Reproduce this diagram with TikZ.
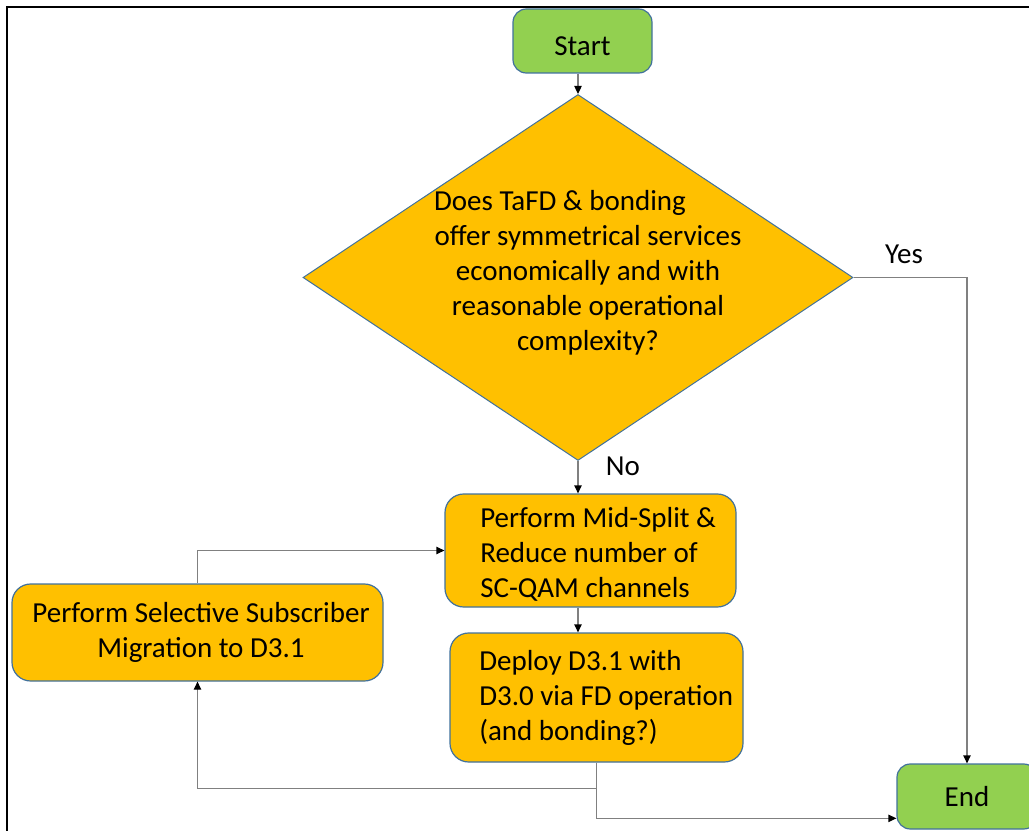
\documentclass[tikz,border=0pt]{standalone}
\usepackage{fontspec}
\setmainfont{Carlito}
\usetikzlibrary{arrows.meta,shapes.geometric,calc}
\definecolor{gold}{HTML}{FFC000}
\definecolor{lgreen}{HTML}{92D050}
\definecolor{edgeblue}{HTML}{41719C}
\definecolor{conngray}{HTML}{808080}
\begin{document}
\begin{tikzpicture}[x=0.75pt,y=-0.75pt,
  every node/.style={font=\fontsize{21.75}{26.25}\selectfont},
  termbox/.style={rectangle, rounded corners=10pt, fill=lgreen, draw=edgeblue, line width=0.9pt},
  procbox/.style={rectangle, rounded corners=14pt, fill=gold, draw=edgeblue, line width=0.9pt},
  decision/.style={diamond, fill=gold, draw=edgeblue, line width=0.75pt, inner sep=0pt},
  conn/.style={draw=conngray, line width=0.9pt, -{Triangle[length=6pt,width=5.5pt,black]}},
  txt/.style={inner sep=0pt, text=black}
]
\clip (0,0) rectangle (1029,831);
\draw[line width=1.6pt] (7,840) -- (7,7) -- (1040,7);

\node[termbox, minimum width=104.25pt, minimum height=48pt, text height=21.75pt, text depth=0pt] (start) at (582.5,41) {Start};
\node[decision, minimum width=412.5pt, minimum height=274.5pt] (q) at (578,277.5) {};
\node[txt, anchor=base, align=center] (qt) at (588,350) {Does TaFD \& bonding\hspace*{42pt}\\offer symmetrical services\\economically and with\\reasonable operational\\complexity?};

\node[procbox, minimum width=218.25pt, minimum height=84.75pt] (b1) at (590.5,550.5) {};
\node[txt, anchor=base west, align=left] (b1t) at (480,597) {Perform Mid-Split \&\\Reduce number of\\SC-QAM channels};

\node[procbox, minimum width=219.75pt, minimum height=96.75pt] (b2) at (596.5,697.5) {};
\node[txt, anchor=base west, align=left] (b2t) at (479,740) {Deploy D3.1 with\\D3.0 via FD operation\\(and bonding?)};

\node[procbox, minimum width=278.25pt, minimum height=72.75pt] (b3) at (197.5,632.5) {};
\node[txt, anchor=base, align=center] (b3t) at (201,657) {Perform Selective Subscriber\\Migration to D3.1};

\node[termbox, minimum width=105pt, minimum height=48.75pt] (end) at (967,796.5) {End};

\node[txt, anchor=base] (yes) at (904,263) {Yes};
\node[txt, anchor=base] (no) at (623,475) {No};

\draw[conn] (q.north |- start.south) -- (q.north);
\draw[conn] (q.south) -- (q.south |- b1.north);
\draw[conn] (q.south |- b1.south) -- (q.south |- b2.north);
\draw[conn] (q.east) -| (end.north);
\draw[conn] (b3.north) |- (b1.west);
\coordinate (split) at ($(b2.south)+(0,26)$);
\coordinate (endin) at ($(end.south west)!0.17!(end.north west)$);
\draw[conn] (b2.south) |- (endin);
\draw[conn] (split) -| (b3.south);
\end{tikzpicture}
\end{document}
